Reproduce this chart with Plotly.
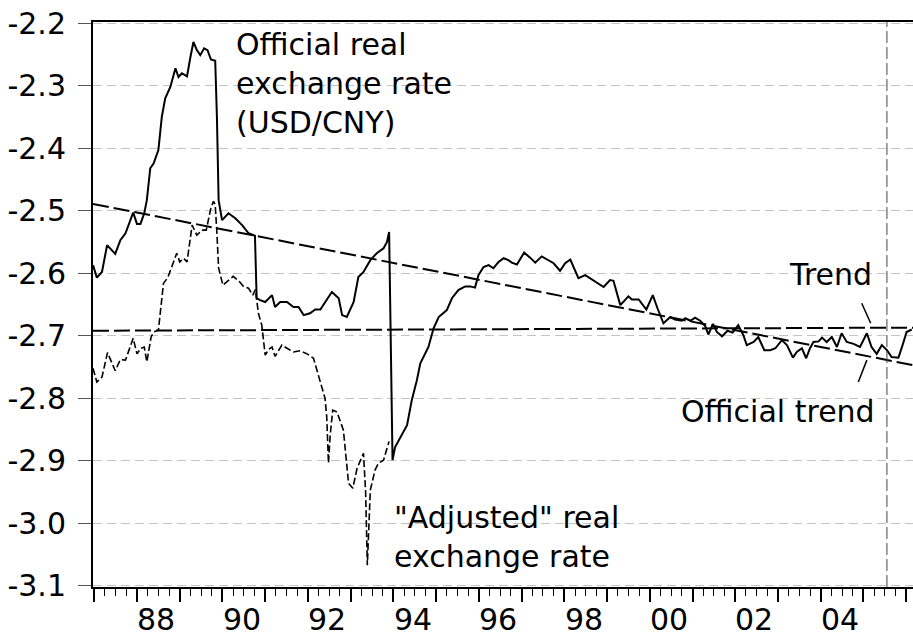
import plotly.graph_objects as go

# ---------------- data (decimal years, log real exchange rate) ----------------
official_x = [1986.97, 1987.06, 1987.18, 1987.30, 1987.49, 1987.61, 1987.73, 1987.91, 1988.00, 1988.08,
              1988.17, 1988.23, 1988.31, 1988.39, 1988.50, 1988.58, 1988.66, 1988.78, 1988.90, 1988.97,
              1989.05, 1989.17, 1989.25, 1989.32, 1989.40, 1989.48, 1989.57, 1989.65, 1989.73, 1989.83,
              1989.87, 1989.91, 1989.99, 1990.14, 1990.30, 1990.46, 1990.61, 1990.73, 1990.76, 1990.80,
              1990.88, 1991.00, 1991.16, 1991.23, 1991.35, 1991.51, 1991.66, 1991.78, 1991.90, 1992.05,
              1992.17, 1992.29, 1992.40, 1992.56, 1992.72, 1992.80, 1992.91, 1993.07, 1993.18, 1993.30,
              1993.46, 1993.61, 1993.77, 1993.85, 1993.90, 1993.98, 1994.04, 1994.32, 1994.43, 1994.55,
              1994.63, 1994.82, 1994.94, 1995.06, 1995.25, 1995.37, 1995.52, 1995.68, 1995.80, 1995.91,
              1995.99, 1996.11, 1996.23, 1996.34, 1996.46, 1996.58, 1996.69, 1996.77, 1996.89, 1997.06,
              1997.20, 1997.32, 1997.47, 1997.63, 1997.75, 1997.90, 1998.02, 1998.14, 1998.21, 1998.33,
              1998.49, 1998.60, 1998.76, 1998.92, 1999.07, 1999.15, 1999.31, 1999.50, 1999.58, 1999.74,
              1999.92, 2000.07, 2000.18, 2000.32, 2000.48, 2000.59, 2000.75, 2000.83, 2000.95, 2001.06,
              2001.18, 2001.30, 2001.37, 2001.48, 2001.57, 2001.69, 2001.82, 2001.94, 2002.07, 2002.19,
              2002.27, 2002.43, 2002.54, 2002.68, 2002.82, 2002.94, 2003.09, 2003.21, 2003.35, 2003.44,
              2003.56, 2003.66, 2003.75, 2003.83, 2003.95, 2004.03, 2004.14, 2004.26, 2004.38, 2004.49,
              2004.61, 2004.77, 2004.92, 2005.08, 2005.19, 2005.31, 2005.43, 2005.55, 2005.66, 2005.82,
              2005.93, 2006.01, 2006.13]
official_y = [-2.587, -2.607, -2.598, -2.555, -2.569, -2.547, -2.536, -2.503, -2.521, -2.521,
              -2.504, -2.483, -2.432, -2.424, -2.403, -2.350, -2.320, -2.302, -2.272, -2.286,
              -2.280, -2.285, -2.254, -2.230, -2.243, -2.251, -2.240, -2.243, -2.258, -2.260,
              -2.350, -2.483, -2.515, -2.504, -2.512, -2.523, -2.536, -2.539, -2.540, -2.640,
              -2.643, -2.646, -2.635, -2.654, -2.646, -2.646, -2.654, -2.654, -2.667, -2.664,
              -2.658, -2.658, -2.646, -2.630, -2.640, -2.667, -2.670, -2.646, -2.606, -2.598,
              -2.579, -2.568, -2.560, -2.550, -2.534, -2.899, -2.878, -2.843, -2.803, -2.771,
              -2.744, -2.718, -2.688, -2.670, -2.659, -2.640, -2.627, -2.621, -2.621, -2.623,
              -2.603, -2.590, -2.587, -2.592, -2.582, -2.576, -2.579, -2.583, -2.586, -2.567,
              -2.575, -2.583, -2.573, -2.579, -2.584, -2.596, -2.584, -2.578, -2.590, -2.608,
              -2.603, -2.608, -2.614, -2.622, -2.611, -2.612, -2.651, -2.637, -2.642, -2.642,
              -2.658, -2.635, -2.656, -2.680, -2.670, -2.674, -2.676, -2.672, -2.676, -2.671,
              -2.676, -2.685, -2.698, -2.681, -2.694, -2.701, -2.692, -2.695, -2.683, -2.699,
              -2.715, -2.710, -2.702, -2.723, -2.723, -2.720, -2.707, -2.715, -2.735, -2.726,
              -2.720, -2.736, -2.720, -2.710, -2.709, -2.703, -2.710, -2.702, -2.718, -2.696,
              -2.710, -2.713, -2.718, -2.696, -2.718, -2.729, -2.715, -2.723, -2.734, -2.735,
              -2.712, -2.694, -2.690]

adjusted_x = [1986.97, 1987.06, 1987.18, 1987.31, 1987.49, 1987.61, 1987.73, 1987.91, 1988.00, 1988.09,
              1988.17, 1988.23, 1988.33, 1988.39, 1988.50, 1988.62, 1988.72, 1988.86, 1988.93, 1989.00,
              1989.09, 1989.17, 1989.29, 1989.40, 1989.52, 1989.62, 1989.73, 1989.79, 1989.83, 1989.87,
              1989.91, 1990.01, 1990.10, 1990.25, 1990.38, 1990.49, 1990.61, 1990.71, 1990.77, 1990.84,
              1990.92, 1991.00, 1991.08, 1991.16, 1991.23, 1991.39, 1991.51, 1991.66, 1991.82, 1991.98,
              1992.13, 1992.25, 1992.40, 1992.44, 1992.48, 1992.52, 1992.58, 1992.68, 1992.83, 1992.95,
              1993.05, 1993.15, 1993.30, 1993.35, 1993.39, 1993.46, 1993.57, 1993.65, 1993.77, 1993.85,
              1993.90]
adjusted_y = [-2.752, -2.774, -2.766, -2.727, -2.756, -2.738, -2.739, -2.704, -2.729, -2.720,
              -2.718, -2.742, -2.702, -2.694, -2.691, -2.616, -2.607, -2.579, -2.568, -2.582,
              -2.576, -2.582, -2.523, -2.539, -2.531, -2.531, -2.495, -2.485, -2.490, -2.536,
              -2.592, -2.619, -2.614, -2.605, -2.612, -2.621, -2.624, -2.635, -2.626, -2.664,
              -2.683, -2.731, -2.722, -2.718, -2.733, -2.715, -2.720, -2.726, -2.724, -2.729,
              -2.736, -2.766, -2.800, -2.830, -2.904, -2.860, -2.819, -2.822, -2.851, -2.936,
              -2.944, -2.912, -2.888, -2.950, -3.067, -2.947, -2.915, -2.904, -2.899, -2.880,
              -2.869]

trend_x = [1986.97, 2006.16]
trend_y = [-2.692, -2.687]
official_trend_x = [1986.97, 2006.16]
official_trend_y = [-2.489, -2.747]

revaluation_date = 2005.55

y_tick_vals = [-2.2, -2.3, -2.4, -2.5, -2.6, -2.7, -2.8, -2.9, -3.0, -3.1]
y_tick_text = ["-2.2", "-2.3", "-2.4", "-2.5", "-2.6", "-2.7", "-2.8", "-2.9", "-3.0", "-3.1"]
x_label_years = [1988, 1990, 1992, 1994, 1996, 1998, 2000, 2002, 2004]
x_label_text = ["88", "90", "92", "94", "96", "98", "00", "02", "04"]

x_range = [1986.97, 2006.16]
y_range = [-3.102, -2.198]

FONT = "DejaVu Sans"
FS = 30

fig = go.Figure()

fig.add_trace(go.Scatter(x=trend_x, y=trend_y, mode="lines",
                         line=dict(color="black", width=2, dash="16px,5px"), showlegend=False))
fig.add_trace(go.Scatter(x=official_trend_x, y=official_trend_y, mode="lines",
                         line=dict(color="black", width=2, dash="16px,5px"), showlegend=False))
fig.add_trace(go.Scatter(x=adjusted_x, y=adjusted_y, mode="lines",
                         line=dict(color="black", width=1.6, dash="7px,3px"), showlegend=False))
fig.add_trace(go.Scatter(x=official_x, y=official_y, mode="lines",
                         line=dict(color="black", width=2), showlegend=False))

# July 2005 vertical marker
fig.add_shape(type="line", x0=revaluation_date, x1=revaluation_date, y0=0, y1=1,
              xref="x", yref="paper", line=dict(color="#444444", width=1, dash="12px,4px"))

# leader lines for labels
trend_leader_x = [2004.96, 2005.17]
trend_leader_y = [-2.648, -2.680]
off_trend_leader_x = [2004.88, 2005.08]
off_trend_leader_y = [-2.774, -2.739]
fig.add_shape(type="line", x0=trend_leader_x[0], x1=trend_leader_x[1],
              y0=trend_leader_y[0], y1=trend_leader_y[1], line=dict(color="black", width=1.5))
fig.add_shape(type="line", x0=off_trend_leader_x[0], x1=off_trend_leader_x[1],
              y0=off_trend_leader_y[0], y1=off_trend_leader_y[1], line=dict(color="black", width=1.5))

ann_font = dict(family=FONT, size=FS, color="black")
fig.add_annotation(x=1990.26, y=-2.297, text="Official real<br>exchange rate<br>(USD/CNY)",
                   showarrow=False, xanchor="left", yanchor="middle", align="left", font=ann_font)
fig.add_annotation(x=1993.97, y=-3.022, text="\"Adjusted\" real<br>exchange rate",
                   showarrow=False, xanchor="left", yanchor="middle", align="left", font=ann_font)
fig.add_annotation(x=2003.22, y=-2.6025, text="Trend",
                   showarrow=False, xanchor="left", yanchor="middle", align="left", font=ann_font)
fig.add_annotation(x=2000.68, y=-2.821, text="Official trend",
                   showarrow=False, xanchor="left", yanchor="middle", align="left", font=ann_font)

# year labels, centred within each labelled year (EViews style)
for yr, lab in zip(x_label_years, x_label_text):
    fig.add_annotation(x=yr + 0.45, xref="x", y=-0.058, yref="paper", text=lab,
                       showarrow=False, xanchor="center", yanchor="middle", font=ann_font)

fig.update_layout(
    width=913, height=639,
    margin=dict(l=93, r=0, t=22, b=52),
    paper_bgcolor="white", plot_bgcolor="white",
    font=dict(family=FONT, size=FS, color="black"),
    xaxis=dict(range=x_range, showgrid=False, zeroline=False,
               showline=True, linecolor="black", linewidth=2, mirror=True,
               tickmode="linear", tick0=1987, dtick=1, ticks="outside", ticklen=13,
               tickwidth=1.5, tickcolor="black", showticklabels=False,
               minor=dict(tick0=1987, dtick=0.25, ticks="outside", ticklen=7,
                          tickwidth=1, tickcolor="black", showgrid=False)),
    yaxis=dict(range=y_range, zeroline=False,
               showline=True, linecolor="black", linewidth=2,
               tickmode="array", tickvals=y_tick_vals, ticktext=y_tick_text,
               ticks="outside", ticklen=13, tickcolor="#555555", tickwidth=1,
               ticklabelstandoff=6,
               tickfont=dict(family=FONT, size=FS, color="black"),
               showgrid=True, gridcolor="#c4c4c4", gridwidth=1, griddash="9px,5px"),
)

fig.write_html("out.html", config={"displayModeBar": False},
               post_script="document.body.style.margin='0';document.body.style.padding='0';")
